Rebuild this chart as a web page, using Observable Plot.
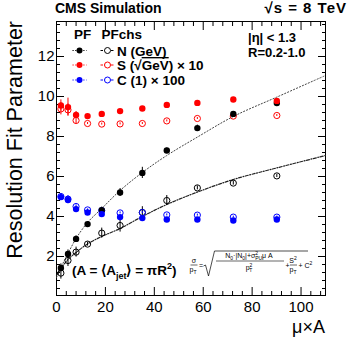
<!DOCTYPE html>
<html><head><meta charset="utf-8">
<script src="https://cdn.jsdelivr.net/npm/d3@7"></script>
<script src="https://cdn.jsdelivr.net/npm/@observablehq/plot@0.6"></script>
<style>body{margin:0;background:#fff;}</style>
</head><body><div id="chart"></div>
<script>
// ---- data ----
const muA = [1.8, 4.7, 8.0, 12.7, 18.5, 26.0, 35.1, 45.1, 57.6, 72.3, 90.1];
const nPF   = [1.43, 2.13, 2.88, 3.62, 4.32, 5.2, 6.18, 7.3, 8.42, 9.13, 9.67];
const nPFerr= [0.2, 0.2, 0.15, 0.1, 0.15, 0.2, 0.28, 0.12, 0.15, 0.12, 0.1];
const nCHS  = [1.17, 1.8, 2.22, 2.62, 3.17, 3.55, 4.2, 4.8, 5.43, 5.67, 6.03];
const nCHSerr=[0.3, 0.3, 0.25, 0.1, 0.25, 0.33, 0.29, 0.25, 0.1, 0.1, 0.08];
const sPF   = [9.55, 9.47, 9.08, 9.02, 9.13, 9.27, 9.4, 9.58, 9.68, 9.85, 9.78];
const sPFerr= [0.28, 0.45, 0.17, 0.05, 0.05, 0.05, 0.05, 0.05, 0.05, 0.05, 0.05];
const sCHS  = [9.38, 9.33, 8.8, 8.65, 8.62, 8.63, 8.65, 8.78, 8.9, 9.02, 9.05];
const sCHSerr=[0.3, 0.3, 0.15, 0.05, 0.05, 0.05, 0.05, 0.05, 0.05, 0.05, 0.05];
const cPF   = [4.97, 4.83, 4.37, 4.2, 4.12, 3.97, 3.92, 3.85, 3.85, 3.8, 3.85];
const cPFerr= [0.15, 0.2, 0.1, 0.05, 0.05, 0.05, 0.05, 0.05, 0.05, 0.05, 0.05];
const cCHS  = [5.0, 4.87, 4.5, 4.33, 4.3, 4.18, 4.2, 4.08, 4.07, 3.97, 3.97];
const cCHSerr=[0.12, 0.15, 0.08, 0.05, 0.05, 0.05, 0.05, 0.05, 0.05, 0.05, 0.05];
// fit curves
const fitX   = [0, 1.8, 4.7, 8.0, 12.7, 18.5, 26.0, 35.1, 45.1, 57.6, 72.3, 90.1, 110];
const fitPF  = [0.95, 1.45, 2.15, 2.9, 3.7, 4.4, 5.3, 6.2, 7.05, 7.97, 9.0, 9.97, 11.05];
const fitCHS = [1.05, 1.4, 1.85, 2.2, 2.63, 3.0, 3.4, 4.0, 4.6, 5.22, 5.85, 6.43, 7.05];
// axes
const xMajor = [0, 20, 40, 60, 80, 100];
const yMajor = [2, 4, 6, 8, 10, 12];
const xMinor = d3.range(4, 110, 4).filter(v => v % 20 !== 0);
const yMinor = d3.range(1, 35).map(i => +(i * 0.4).toFixed(1)).filter(v => Math.abs(v / 2 - Math.round(v / 2)) > 1e-6);
// legend
const legendLabels = ["N (GeV)", "S (√GeV) × 10", "C (1) × 100"];
const legendColors = ["black", "#ff0000", "#0000ff"];

const seriesDefs = [
  {algo: "PF", color: "black", y: nPF, e: nPFerr},
  {algo: "PFchs", color: "black", y: nCHS, e: nCHSerr},
  {algo: "PF", color: "#ff0000", y: sPF, e: sPFerr},
  {algo: "PFchs", color: "#ff0000", y: sCHS, e: sCHSerr},
  {algo: "PF", color: "#0000ff", y: cPF, e: cPFerr},
  {algo: "PFchs", color: "#0000ff", y: cCHS, e: cCHSerr}
];
const points = seriesDefs.flatMap(s => muA.map((x, i) => ({x, y: s.y[i], e: s.e[i], color: s.color, algo: s.algo})));
const pfPts = points.filter(d => d.algo === "PF");
const chsPts = points.filter(d => d.algo === "PFchs");
const fitPFData = fitX.map((x, i) => ({x, y: fitPF[i]}));
const fitCHSData = fitX.map((x, i) => ({x, y: fitCHS[i]}));

const FONT = "'Liberation Sans', Arial, Helvetica, sans-serif";
const blank = () => "";

const plot = Plot.plot({
  width: 354, height: 340,
  marginLeft: 56, marginRight: 29, marginTop: 21, marginBottom: 45,
  x: {domain: [0, 110]},
  y: {domain: [0.05, 13.75]},
  color: {type: "identity"},
  style: {fontFamily: FONT, background: "white", color: "black", overflow: "visible"},
  marks: [
    Plot.axisX({ticks: xMajor, tickSize: 0, tickPadding: 6, fontSize: 15, label: null}),
    Plot.axisY({ticks: yMajor, tickSize: 0, tickPadding: 2, fontSize: 15, label: null}),
    Plot.axisX({anchor: "bottom", ticks: xMajor, tickSize: -8, tickFormat: blank, label: null}),
    Plot.axisX({anchor: "bottom", ticks: xMinor, tickSize: -4, tickFormat: blank, label: null}),
    Plot.axisX({anchor: "top", ticks: xMajor, tickSize: -8, tickFormat: blank, label: null}),
    Plot.axisX({anchor: "top", ticks: xMinor, tickSize: -4, tickFormat: blank, label: null}),
    Plot.axisY({anchor: "left", ticks: yMajor, tickSize: -8, tickFormat: blank, label: null}),
    Plot.axisY({anchor: "left", ticks: yMinor, tickSize: -4, tickFormat: blank, label: null}),
    Plot.axisY({anchor: "right", ticks: yMajor, tickSize: -8, tickFormat: blank, label: null}),
    Plot.axisY({anchor: "right", ticks: yMinor, tickSize: -4, tickFormat: blank, label: null}),
    Plot.frame({stroke: "black", strokeWidth: 1}),
    Plot.line(fitPFData, {x: "x", y: "y", curve: "catmull-rom", stroke: "#444", strokeWidth: 1, strokeDasharray: "1.2,2"}),
    Plot.line(fitCHSData, {x: "x", y: "y", curve: "catmull-rom", stroke: "#222", strokeWidth: 1.2, strokeDasharray: "3,1.5,1,1.5"}),
    Plot.ruleX(points, {x: "x", y1: d => d.y - d.e, y2: d => d.y + d.e, stroke: "color", strokeWidth: 1}),
    Plot.dot(chsPts, {x: "x", y: "y", r: 3.1, stroke: "color", fill: "none", strokeWidth: 1}),
    Plot.dot(pfPts, {x: "x", y: "y", r: 3.2, fill: "color", stroke: "none"})
  ]
});
document.getElementById("chart").appendChild(plot);

// ---- annotations ----
const svg = d3.select(plot);
const g = svg.append("g").attr("font-family", FONT).attr("fill", "black");
function T(x, y, s, o = {}) {
  const t = g.append("text").attr("x", x).attr("y", y).attr("font-size", o.size || 14)
    .attr("font-weight", o.bold ? "bold" : "normal").attr("text-anchor", o.anchor || "start");
  if (s != null) t.text(s);
  return t;
}
// header
T(55, 13, "CMS Simulation", {bold: true, size: 14});
{
  const t = T(347, 13, null, {bold: true, size: 15, anchor: "end"}).attr("letter-spacing", 1);
  t.append("tspan").text("√");
  t.append("tspan").text("s").attr("text-decoration", "overline");
  t.append("tspan").text(" = 8 TeV");
}
// axis titles
T(0, 0, "Resolution Fit Parameter", {size: 21.5, anchor: "end"}).attr("transform", "translate(21.5,21) rotate(-90)");
T(325, 333, "μ×A", {size: 18, anchor: "end"});
// eta / R
T(248, 41.5, "|η| < 1.3", {bold: true, size: 13});
T(248, 57, "R=0.2-1.0", {bold: true, size: 13});
// legend
T(74, 38.5, "PF", {bold: true, size: 13.5});
T(101.5, 38.5, "PFchs", {bold: true, size: 13.5});
const rowY = [50.5, 65, 80];
legendLabels.forEach((lab, i) => {
  const y = rowY[i], c = legendColors[i];
  g.append("line").attr("x1", 72.5).attr("x2", 86.5).attr("y1", y).attr("y2", y).attr("stroke", c).attr("stroke-dasharray", "1.2,1.5");
  g.append("circle").attr("cx", 79.5).attr("cy", y).attr("r", 3).attr("fill", c);
  g.append("line").attr("x1", 100.5).attr("x2", 114.5).attr("y1", y).attr("y2", y).attr("stroke", c).attr("stroke-dasharray", "2.5,1");
  g.append("circle").attr("cx", 107.5).attr("cy", y).attr("r", 3).attr("fill", "white").attr("stroke", c);
  const t = T(117, y + 5, null, {bold: true, size: 13.5});
  if (i === 1) {
    t.append("tspan").text("S (√");
    t.append("tspan").text("GeV").attr("text-decoration", "overline");
    t.append("tspan").text(") × 10");
  } else t.text(lab);
});
// area definition
{
  const t = T(72, 275, null, {bold: true, size: 13.5});
  t.append("tspan").text("(A = ⟨A");
  t.append("tspan").text("jet").attr("font-size", 9).attr("dy", 4);
  t.append("tspan").text("⟩ = πR").attr("dy", -4);
  t.append("tspan").text("2").attr("font-size", 9).attr("dy", -6);
  t.append("tspan").text(")").attr("dy", 6);
}
// resolution formula
{
  const fs = 7;
  T(194, 263, "σ", {size: fs, anchor: "middle"});
  g.append("line").attr("x1", 190.5).attr("x2", 197.5).attr("y1", 265).attr("y2", 265).attr("stroke", "black").attr("stroke-width", 0.6);
  const p1 = T(193, 272, "p", {size: fs, anchor: "middle"}); p1.append("tspan").text("T").attr("font-size", 5).attr("dy", 1.5);
  T(201, 267.5, "=", {size: fs, anchor: "middle"});
  g.append("path").attr("d", "M203.5,266 L205.5,265 L208.5,276 L214.5,251 L308,251").attr("fill", "none").attr("stroke", "black").attr("stroke-width", 0.7);
  const num = T(249, 258, null, {size: fs, anchor: "middle"});
  num.append("tspan").text("N");
  num.append("tspan").text("0").attr("font-size", 5).attr("dy", 1.5);
  num.append("tspan").text("·|N").attr("dy", -1.5);
  num.append("tspan").text("0").attr("font-size", 5).attr("dy", 1.5);
  num.append("tspan").text("|+σ").attr("dy", -1.5);
  num.append("tspan").text("2").attr("font-size", 5).attr("dy", -3);
  num.append("tspan").text("PU").attr("font-size", 5).attr("dx", -3).attr("dy", 5);
  num.append("tspan").text("μ A").attr("dy", -2);
  g.append("line").attr("x1", 216).attr("x2", 284).attr("y1", 261).attr("y2", 261).attr("stroke", "black").attr("stroke-width", 0.6);
  const den = T(249, 270, null, {size: fs, anchor: "middle"});
  den.append("tspan").text("p");
  den.append("tspan").text("2").attr("font-size", 5).attr("dy", -3);
  den.append("tspan").text("T").attr("font-size", 5).attr("dx", -3).attr("dy", 5);
  T(287.5, 267.5, "+", {size: fs, anchor: "middle"});
  const s2 = T(293, 263, "S", {size: fs, anchor: "middle"}); s2.append("tspan").text("2").attr("font-size", 5).attr("dy", -3);
  g.append("line").attr("x1", 290).attr("x2", 297).attr("y1", 265).attr("y2", 265).attr("stroke", "black").attr("stroke-width", 0.6);
  const p2 = T(293, 272, "p", {size: fs, anchor: "middle"}); p2.append("tspan").text("T").attr("font-size", 5).attr("dy", 1.5);
  const c2 = T(298.5, 267.5, "+ C", {size: fs}); c2.append("tspan").text("2").attr("font-size", 5).attr("dy", -3);
}
</script>
</body></html>
